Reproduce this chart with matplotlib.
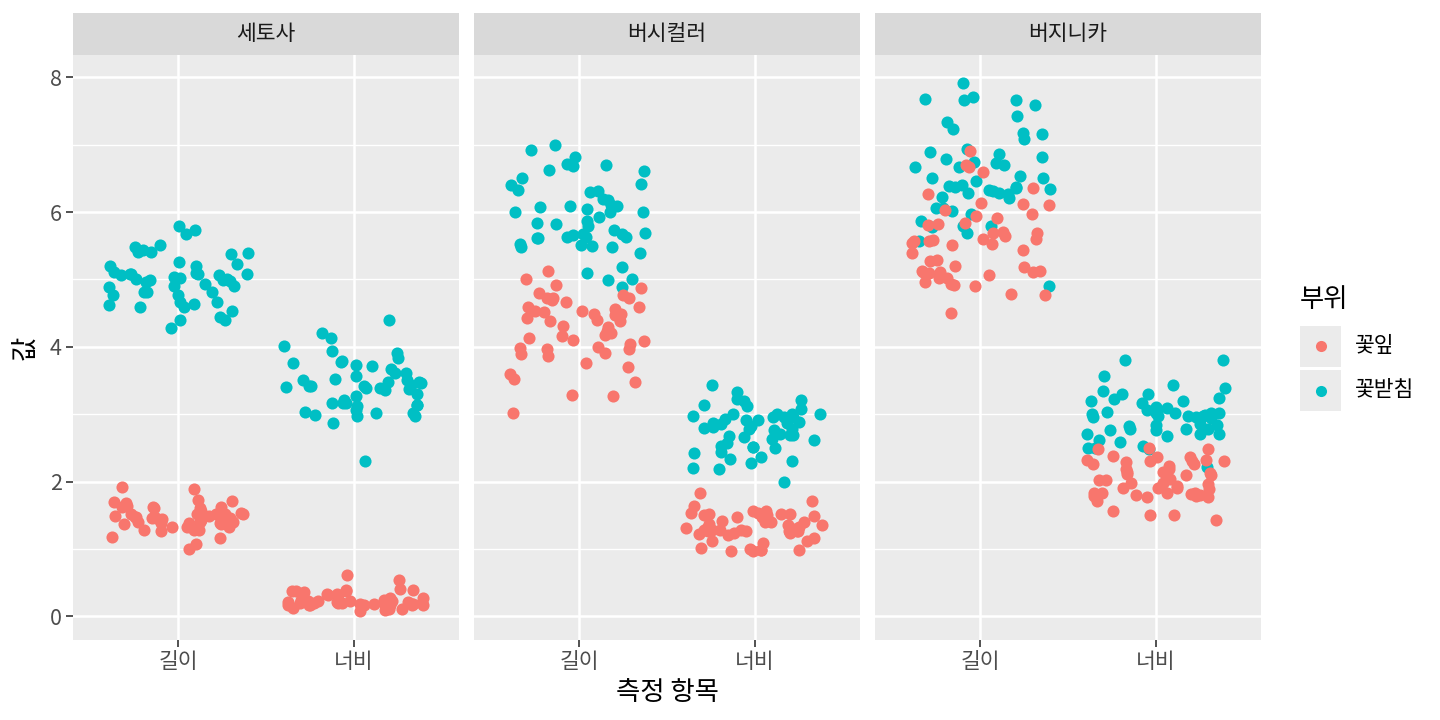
import numpy as np
import matplotlib
matplotlib.use("Agg")
import matplotlib.pyplot as plt
from matplotlib.patches import Rectangle
from matplotlib.lines import Line2D

plt.rcParams['font.family'] = ['Noto Sans CJK KR', 'DejaVu Sans']

# iris data (세토사, 버시컬러, 버지니카 - 50 each)
sepal_length = [
    5.1, 4.9, 4.7, 4.6, 5.0, 5.4, 4.6, 5.0, 4.4, 4.9, 5.4, 4.8, 4.8, 4.3, 5.8, 5.7, 5.4, 5.1, 5.7, 5.1,
    5.4, 5.1, 4.6, 5.1, 4.8, 5.0, 5.0, 5.2, 5.2, 4.7, 4.8, 5.4, 5.2, 5.5, 4.9, 5.0, 5.5, 4.9, 4.4, 5.1,
    5.0, 4.5, 4.4, 5.0, 5.1, 4.8, 5.1, 4.6, 5.3, 5.0,
    7.0, 6.4, 6.9, 5.5, 6.5, 5.7, 6.3, 4.9, 6.6, 5.2, 5.0, 5.9, 6.0, 6.1, 5.6, 6.7, 5.6, 5.8, 6.2, 5.6,
    5.9, 6.1, 6.3, 6.1, 6.4, 6.6, 6.8, 6.7, 6.0, 5.7, 5.5, 5.5, 5.8, 6.0, 5.4, 6.0, 6.7, 6.3, 5.6, 5.5,
    5.5, 6.1, 5.8, 5.0, 5.6, 5.7, 5.7, 6.2, 5.1, 5.7,
    6.3, 5.8, 7.1, 6.3, 6.5, 7.6, 4.9, 7.3, 6.7, 7.2, 6.5, 6.4, 6.8, 5.7, 5.8, 6.4, 6.5, 7.7, 7.7, 6.0,
    6.9, 5.6, 7.7, 6.3, 6.7, 7.2, 6.2, 6.1, 6.4, 7.2, 7.4, 7.9, 6.4, 6.3, 6.1, 7.7, 6.3, 6.4, 6.0, 6.9,
    6.7, 6.9, 5.8, 6.8, 6.7, 6.7, 6.3, 6.5, 6.2, 5.9]
sepal_width = [
    3.5, 3.0, 3.2, 3.1, 3.6, 3.9, 3.4, 3.4, 2.9, 3.1, 3.7, 3.4, 3.0, 3.0, 4.0, 4.4, 3.9, 3.5, 3.8, 3.8,
    3.4, 3.7, 3.6, 3.3, 3.4, 3.0, 3.4, 3.5, 3.4, 3.2, 3.1, 3.4, 4.1, 4.2, 3.1, 3.2, 3.5, 3.6, 3.0, 3.4,
    3.5, 2.3, 3.2, 3.5, 3.8, 3.0, 3.8, 3.2, 3.7, 3.3,
    3.2, 3.2, 3.1, 2.3, 2.8, 2.8, 3.3, 2.4, 2.9, 2.7, 2.0, 3.0, 2.2, 2.9, 2.9, 3.1, 3.0, 2.7, 2.2, 2.5,
    3.2, 2.8, 2.5, 2.8, 2.9, 3.0, 2.8, 3.0, 2.9, 2.6, 2.4, 2.4, 2.7, 2.7, 3.0, 3.4, 3.1, 2.3, 3.0, 2.5,
    2.6, 3.0, 2.6, 2.3, 2.7, 3.0, 2.9, 2.9, 2.5, 2.8,
    3.3, 2.7, 3.0, 2.9, 3.0, 3.0, 2.5, 2.9, 2.5, 3.6, 3.2, 2.7, 3.0, 2.5, 2.8, 3.2, 3.0, 3.8, 2.6, 2.2,
    3.2, 2.8, 2.8, 2.7, 3.3, 3.2, 2.8, 3.0, 2.8, 3.0, 2.8, 3.8, 2.8, 2.8, 2.6, 3.0, 3.4, 3.1, 3.0, 3.1,
    3.1, 3.1, 2.7, 3.2, 3.3, 3.0, 2.5, 3.0, 3.4, 3.0]
petal_length = [
    1.4, 1.4, 1.3, 1.5, 1.4, 1.7, 1.4, 1.5, 1.4, 1.5, 1.5, 1.6, 1.4, 1.1, 1.2, 1.5, 1.3, 1.4, 1.7, 1.5,
    1.7, 1.5, 1.0, 1.7, 1.9, 1.6, 1.6, 1.5, 1.4, 1.6, 1.6, 1.5, 1.5, 1.4, 1.5, 1.2, 1.3, 1.4, 1.3, 1.5,
    1.3, 1.3, 1.3, 1.6, 1.9, 1.4, 1.6, 1.4, 1.5, 1.4,
    4.7, 4.5, 4.9, 4.0, 4.6, 4.5, 4.7, 3.3, 4.6, 3.9, 3.5, 4.2, 4.0, 4.7, 3.6, 4.4, 4.5, 4.1, 4.5, 3.9,
    4.8, 4.0, 4.9, 4.7, 4.3, 4.4, 4.8, 5.0, 4.5, 3.5, 3.8, 3.7, 3.9, 5.1, 4.5, 4.5, 4.7, 4.4, 4.1, 4.0,
    4.4, 4.6, 4.0, 3.3, 4.2, 4.2, 4.2, 4.3, 3.0, 4.1,
    6.0, 5.1, 5.9, 5.6, 5.8, 6.6, 4.5, 6.3, 5.8, 6.1, 5.1, 5.3, 5.5, 5.0, 5.1, 5.3, 5.5, 6.7, 6.9, 5.0,
    5.7, 4.9, 6.7, 4.9, 5.7, 6.0, 4.8, 4.9, 5.6, 5.8, 6.1, 6.4, 5.6, 5.1, 5.6, 6.1, 5.6, 5.5, 4.8, 5.4,
    5.6, 5.1, 5.1, 5.9, 5.7, 5.2, 5.0, 5.2, 5.4, 5.1]
petal_width = [
    0.2, 0.2, 0.2, 0.2, 0.2, 0.4, 0.3, 0.2, 0.2, 0.1, 0.2, 0.2, 0.1, 0.1, 0.2, 0.4, 0.4, 0.3, 0.3, 0.3,
    0.2, 0.4, 0.2, 0.5, 0.2, 0.2, 0.4, 0.2, 0.2, 0.2, 0.2, 0.4, 0.1, 0.2, 0.2, 0.2, 0.2, 0.1, 0.2, 0.2,
    0.3, 0.3, 0.2, 0.6, 0.4, 0.3, 0.2, 0.2, 0.2, 0.2,
    1.4, 1.5, 1.5, 1.3, 1.5, 1.3, 1.6, 1.0, 1.3, 1.4, 1.0, 1.5, 1.0, 1.4, 1.3, 1.4, 1.5, 1.0, 1.5, 1.1,
    1.8, 1.3, 1.5, 1.2, 1.3, 1.4, 1.4, 1.7, 1.5, 1.0, 1.1, 1.0, 1.2, 1.6, 1.5, 1.6, 1.5, 1.3, 1.3, 1.3,
    1.2, 1.4, 1.2, 1.0, 1.3, 1.2, 1.3, 1.3, 1.1, 1.3,
    2.5, 1.9, 2.1, 1.8, 2.2, 2.1, 1.7, 1.8, 1.8, 2.5, 2.0, 1.9, 2.1, 2.0, 2.4, 2.3, 1.8, 2.2, 2.3, 1.5,
    2.3, 2.0, 2.0, 1.8, 2.1, 1.8, 1.8, 1.8, 2.1, 1.6, 1.9, 2.0, 2.2, 1.5, 1.4, 2.3, 2.4, 1.8, 1.8, 2.1,
    2.4, 2.3, 1.9, 2.3, 2.5, 2.3, 1.9, 2.0, 2.3, 1.8]

species = ['세토사', '버시컬러', '버지니카']
measures = ['길이', '너비']
parts = ['꽃잎', '꽃받침']
colors = {'꽃잎': '#F8766D', '꽃받침': '#00BFC4'}

values = {
    ('꽃받침', '길이'): sepal_length,
    ('꽃받침', '너비'): sepal_width,
    ('꽃잎', '길이'): petal_length,
    ('꽃잎', '너비'): petal_width,
}

W, H = 1440, 720
fig = plt.figure(figsize=(W / 100, H / 100), dpi=100)

rng = np.random.default_rng(7)  # geom_jitter style offsets

panel_left = [73, 474, 875]
panel_w = 386
panel_top, panel_bot = 55, 640
strip_top = 13
small = 15.5
big = 19

for k, sp in enumerate(species):
    x0 = panel_left[k]
    ax = fig.add_axes([x0 / W, 1 - panel_bot / H, panel_w / W, (panel_bot - panel_top) / H])
    ax.set_facecolor('#EBEBEB')
    for s in ax.spines.values():
        s.set_visible(False)
    ax.set_xlim(0.4, 2.6)
    ax.set_ylim(-0.35, 8.33)
    for yv in [1, 3, 5, 7]:
        ax.axhline(yv, color='white', lw=1.0, zorder=0)
    for yv in [0, 2, 4, 6, 8]:
        ax.axhline(yv, color='white', lw=1.8, zorder=0)
    for xv in [1, 2]:
        ax.axvline(xv, color='white', lw=1.8, zorder=0)

    for part in ['꽃받침', '꽃잎']:
        for j, m in enumerate(measures):
            vals = np.array(values[(part, m)][50 * k:50 * (k + 1)])
            xs = (j + 1) + rng.uniform(-0.4, 0.4, len(vals))
            ys = vals + rng.uniform(-0.04, 0.04, len(vals))
            ax.scatter(xs, ys, s=76, color=colors[part], linewidths=0, zorder=3)

    ax.set_xticks([1, 2])
    ax.set_xticklabels(measures)
    ax.set_yticks([0, 2, 4, 6, 8])
    ax.tick_params(axis='both', colors='#333333', length=5, width=1.2,
                   labelsize=small, labelcolor='#4D4D4D', pad=3)
    if k > 0:
        ax.tick_params(axis='y', left=False, labelleft=False)

    # strip
    sax = fig.add_axes([x0 / W, 1 - panel_top / H, panel_w / W, (panel_top - strip_top) / H])
    sax.set_facecolor('#D9D9D9')
    sax.set_xticks([])
    sax.set_yticks([])
    for s in sax.spines.values():
        s.set_visible(False)
    sax.text(0.5, 0.5, sp, ha='center', va='center', fontsize=small, color='#1A1A1A',
             transform=sax.transAxes)

fig.text(667 / W, 1 - 693 / H, '측정 항목', ha='center', va='center', fontsize=big)
fig.text(26 / W, 1 - 348 / H, '값', ha='center', va='center', fontsize=big, rotation=90)

# legend
fig.text(1300 / W, 1 - 299 / H, '부위', ha='left', va='center', fontsize=big)
for i, part in enumerate(parts):
    top = 326 + i * 44
    fig.add_artist(Rectangle((1300 / W, 1 - (top + 41) / H), 41 / W, 41 / H,
                             transform=fig.transFigure, facecolor='#EBEBEB', edgecolor='none'))
    fig.add_artist(Line2D([1321 / W], [1 - (top + 20.5) / H], marker='o', markersize=8,
                          color=colors[part], markeredgewidth=0, transform=fig.transFigure))
    fig.text(1355 / W, 1 - (top + 20.5) / H, part, ha='left', va='center', fontsize=small)

fig.savefig('out.png', dpi=100, facecolor='white')
